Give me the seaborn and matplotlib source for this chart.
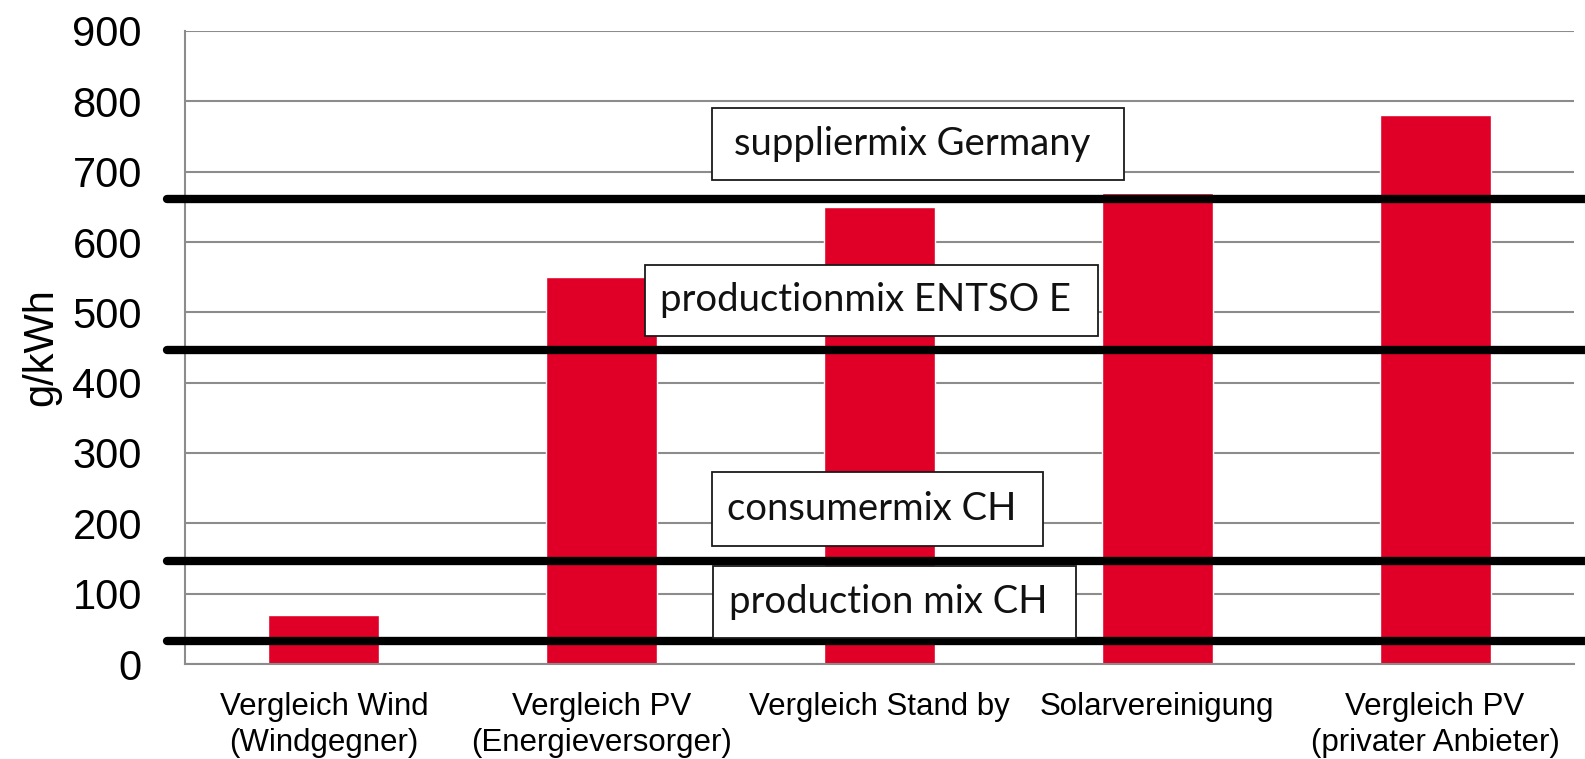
"""
Recreation of the g/kWh comparison bar chart with reference mix lines
"""

import matplotlib
matplotlib.use('Agg')
import matplotlib.pyplot as plt
import seaborn as sns
import pandas as pd
from matplotlib.patches import Rectangle

# Data
categories = [
    'Vergleich Wind\n(Windgegner)',
    'Vergleich PV\n(Energieversorger)',
    'Vergleich Stand by',
    'Solarvereinigung',
    'Vergleich PV\n(privater Anbieter)',
]
values = [70, 550, 650, 670, 780]

mix_labels = ['suppliermix Germany', 'productionmix ENTSO E', 'consumermix CH', 'production mix CH']
mix_values = [661, 446, 146, 33]

y_ticks = [0, 100, 200, 300, 400, 500, 600, 700, 800, 900]

# Layout of the label boxes (x0, x1 in category units, y0, y1 in data units)
box_layout = [
    (1.396, 2.880, 688, 790),
    (1.156, 2.786, 467, 568),
    (1.396, 2.589, 168, 273),
    (1.399, 2.706, 37, 139),
]

BAR_COLOR = '#E00027'
GRID_COLOR = '#8C8C8C'

sns.set_style('white')
plt.rcParams['font.family'] = ['Liberation Sans', 'DejaVu Sans']
plt.rcParams['text.color'] = 'black'
plt.rcParams['axes.labelcolor'] = 'black'
plt.rcParams['xtick.labelcolor'] = 'black'
plt.rcParams['ytick.labelcolor'] = 'black'

df = pd.DataFrame({'category': categories, 'value': values})

fig = plt.figure(figsize=(15.85, 7.59), dpi=100)
ax = fig.add_axes([185 / 1585, 95 / 759, 1389 / 1585, 633 / 759])

sns.barplot(data=df, x='category', y='value', color=BAR_COLOR, width=0.4,
            saturation=1, ax=ax, zorder=2)

ax.set_xlim(-0.5, len(categories) - 0.5)
ax.set_ylim(0, 900)
ax.set_yticks(y_ticks)
ax.set_yticklabels([str(t) for t in y_ticks], fontsize=30, color='black')
ax.yaxis.grid(True, color=GRID_COLOR, linewidth=1.5, zorder=0)
ax.set_axisbelow(True)

# category boundary ticks
ax.set_xticks([i - 0.5 for i in range(len(categories) + 1)], minor=True)
ax.tick_params(axis='x', which='minor', length=7, width=1.5, color=GRID_COLOR, direction='out')
ax.tick_params(axis='x', which='major', length=0, pad=20, labelsize=22.5, labelcolor='black')
ax.tick_params(axis='y', length=11, width=1.5, color=GRID_COLOR, pad=20)
for lbl in ax.get_xticklabels():
    lbl.set_linespacing(1.25)

for side in ['top', 'right']:
    ax.spines[side].set_visible(False)
for side in ['left', 'bottom']:
    ax.spines[side].set_color(GRID_COLOR)
    ax.spines[side].set_linewidth(1.5)

ax.set_xlabel('')
ax.set_ylabel('g/kWh', fontsize=30, labelpad=8, color='black')

# thick reference lines
for v in mix_values:
    ax.axhline(v, xmin=-0.013, xmax=1.02, color='black', linewidth=6, zorder=4, clip_on=False)

# label boxes
for label, (x0, x1, y0, y1) in zip(mix_labels, box_layout):
    ax.add_patch(Rectangle((x0, y0), x1 - x0, y1 - y0, facecolor='white',
                           edgecolor='#1a1a1a', linewidth=1.3, zorder=5))
    ax.text((x0 + x1) / 2 - 0.02, (y0 + y1) / 2, label, ha='center', va='center',
            fontsize=27.5, family=['Lato', 'DejaVu Sans'], color='#111111', zorder=6)

fig.savefig('out.png', dpi=100)
